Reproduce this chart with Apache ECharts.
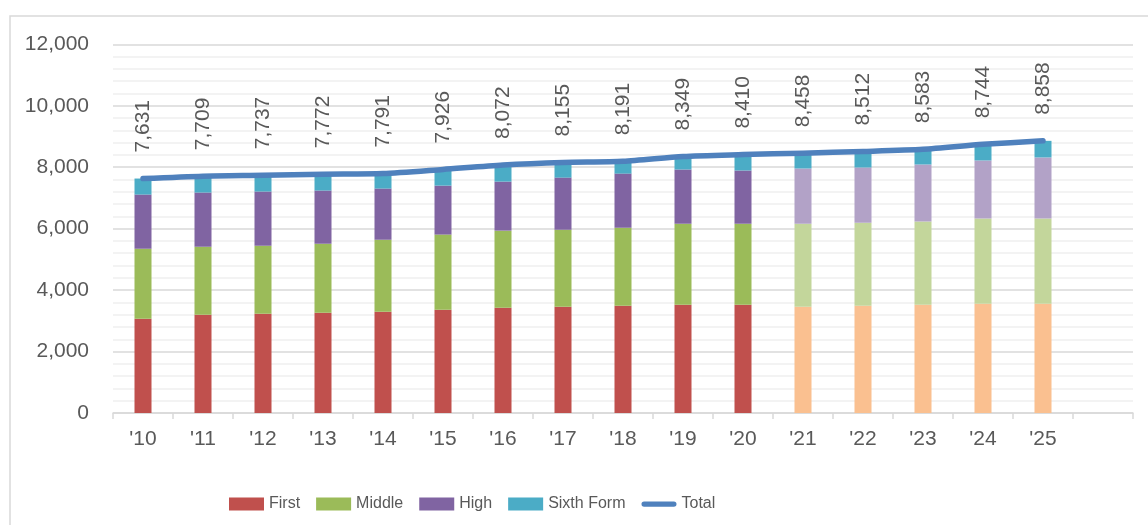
<!DOCTYPE html>
<html>
<head>
<meta charset="utf-8">
<script src="https://cdn.jsdelivr.net/npm/echarts@6/dist/echarts.min.js"></script>
<style>
html,body{margin:0;padding:0;background:#fff;}
#c{width:1148px;height:525px;}
</style>
</head>
<body>
<div id="c"></div>
<script>
const categories = ["'10","'11","'12","'13","'14","'15","'16","'17","'18","'19","'20","'21","'22","'23","'24","'25"];
const first  = [3064,3194,3227,3260,3292,3357,3423,3455,3488,3520,3520,3455,3488,3520,3553,3553];
const middle = [2283,2219,2219,2249,2349,2450,2512,2513,2545,2643,2643,2708,2708,2709,2774,2774];
const high   = [1762,1762,1762,1731,1664,1593,1596,1693,1758,1762,1730,1795,1794,1859,1892,1990];
const sixth  = [522,534,529,532,486,526,541,494,400,424,517,500,522,495,525,541];
const total  = [7631,7709,7737,7772,7791,7926,8072,8155,8191,8349,8410,8458,8512,8583,8744,8858];
const yTicks = [0,2000,4000,6000,8000,10000,12000];
const firstProjected = 11; // index of '21, first projected year

const baseColors = {First:'#c0504d', Middle:'#9bbb59', High:'#8064a2', 'Sixth Form':'#4bacc6'};
const lightColors = {First:'#fac090', Middle:'#c3d69b', High:'#b2a2c7', 'Sixth Form':'#4bacc6'};

const textColor = '#595959';
const fontFamily = "'Liberation Sans', Arial, sans-serif";

function barSeries(name, values){
  return {
    name: name,
    type: 'bar',
    stack: 'pupils',
    barWidth: 17,
    itemStyle: {color: baseColors[name]},
    data: values.map((v,i) => i >= firstProjected ? {value:v, itemStyle:{color: lightColors[name]}} : v),
    z: 2
  };
}

const chart = echarts.init(document.getElementById('c'), null, {renderer:'canvas'});
chart.setOption({
  animation: false,
  backgroundColor: '#fff',
  textStyle: {fontFamily: fontFamily},
  graphic: [{
    type: 'rect',
    shape: {x: 10, y: 16, width: 1300, height: 600},
    style: {fill: 'none', stroke: '#d9d9d9', lineWidth: 1.5},
    silent: true, z: -10
  }],
  grid: {left: 113, right: 15, top: 44.3, bottom: 112, containLabel: false},
  legend: {
    left: 224, top: 491,
    itemWidth: 35, itemHeight: 13, itemGap: 16,
    textStyle: {color: textColor, fontSize: 16, fontFamily: fontFamily},
    data: [
      {name:'First', icon:'rect'},
      {name:'Middle', icon:'rect'},
      {name:'High', icon:'rect'},
      {name:'Sixth Form', icon:'rect'},
      {name:'Total', icon:'path://M3,0 L37,0 A3,3 0 0 1 37,6 L3,6 A3,3 0 0 1 3,0 Z'}
    ]
  },
  xAxis: {
    type: 'category',
    data: categories.concat(['']),
    boundaryGap: true,
    axisLine: {lineStyle: {color: '#d9d9d9', width: 1.5}},
    axisTick: {show: true, length: 6, alignWithLabel: false, lineStyle: {color: '#d9d9d9', width: 1.5}},
    axisLabel: {color: textColor, fontSize: 21, margin: 16, interval: 0},
    splitLine: {show: false}
  },
  yAxis: {
    type: 'value',
    min: yTicks[0], max: yTicks[yTicks.length-1], interval: 2000,
    axisLine: {show: false},
    axisTick: {show: false},
    axisLabel: {color: textColor, fontSize: 21, margin: 24, padding: [8,0,0,0],
      formatter: v => v.toLocaleString('en-US')},
    splitLine: {lineStyle: {color: '#d9d9d9', width: 1.5}},
    minorTick: {show: false, splitNumber: 5},
    minorSplitLine: {show: true, lineStyle: {color: '#f0f0f0', width: 1.5}}
  },
  series: [
    barSeries('First', first),
    barSeries('Middle', middle),
    barSeries('High', high),
    barSeries('Sixth Form', sixth),
    {
      name: 'Total',
      type: 'line',
      data: total,
      smooth: 0.25,
      symbol: 'circle',
      symbolSize: 0,
      showSymbol: true,
      itemStyle: {color: '#4f81bd'},
      lineStyle: {color: '#4f81bd', width: 5.5, cap: 'round', join: 'round'},
      label: {
        show: true,
        position: 'top',
        distance: 26,
        rotate: 90,
        align: 'left',
        verticalAlign: 'middle',
        color: textColor,
        fontSize: 21,
        formatter: p => p.value.toLocaleString('en-US')
      },
      z: 5
    }
  ]
});
</script>
</body>
</html>
